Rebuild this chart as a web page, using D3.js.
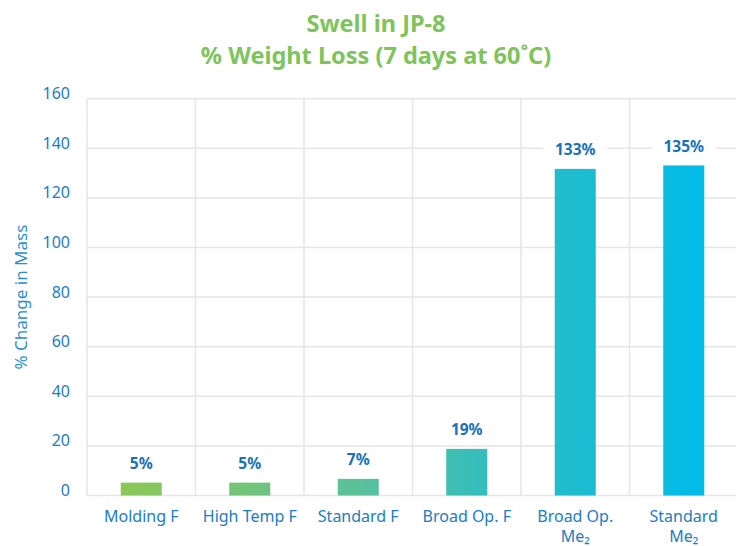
<!DOCTYPE html>
<html>
<head>
<meta charset="utf-8">
<script src="https://cdn.jsdelivr.net/npm/d3@7"></script>
<style>
  html, body { margin: 0; padding: 0; background: #fff; overflow: hidden; }
  svg { display: block; font-family: "Noto Sans", "Lato", sans-serif; }
</style>
</head>
<body>
<svg id="chart" width="736" height="546"></svg>
<script>
// ---- data ----
const categories = ["Molding F", "High Temp F", "Standard F", "Broad Op. F", "Broad Op.|Me₂", "Standard|Me₂"];
const values = [5.2, 5.2, 6.7, 18.8, 131.7, 133.1];
const valueLabels = ["5%", "5%", "7%", "19%", "133%", "135%"];
const yTicks = [0, 20, 40, 60, 80, 100, 120, 140, 160];
const titleLines = ["Swell in JP-8", "% Weight Loss (7 days at 60˚C)"];
const yAxisTitle = "% Change in Mass";

// ---- layout ----
const svg = d3.select("#chart");
const pLeft = 87, pRight = 738, pTop = 98.7, pBottom = 495.5;

const x = d3.scaleBand().domain(categories).range([pLeft, pRight]).padding(0);
const y = d3.scaleLinear().domain([0, 160]).range([pBottom, pTop]);
const barW = x.bandwidth() * 0.378;

// gradient
const defs = svg.append("defs");
const grad = defs.append("linearGradient")
  .attr("id", "barGrad").attr("gradientUnits", "userSpaceOnUse")
  .attr("x1", x(categories[0]) + x.bandwidth() / 2 - barW / 2).attr("x2", x(categories[5]) + x.bandwidth() / 2 + barW / 2)
  .attr("y1", 0).attr("y2", 0);
[[0, "#8dc757"], [0.4, "#5cc199"], [0.65, "#2fbdc0"], [1, "#00bbe9"]].forEach(([o, c]) =>
  grad.append("stop").attr("offset", o).attr("stop-color", c));

const gridColor = "#e5e5e5";

// horizontal grid
svg.append("g").selectAll("line").data(yTicks).join("line")
  .attr("x1", pLeft).attr("x2", pRight)
  .attr("y1", d => y(d)).attr("y2", d => y(d))
  .attr("stroke", gridColor).attr("stroke-width", 1.5);

// vertical grid (band boundaries)
const bounds = categories.map(c => x(c)).concat([pRight]);
svg.append("g").selectAll("line").data(bounds).join("line")
  .attr("x1", d => d).attr("x2", d => d)
  .attr("y1", pTop).attr("y2", pBottom)
  .attr("stroke", gridColor).attr("stroke-width", 1.5);

// y tick labels
svg.append("g").selectAll("text").data(yTicks).join("text")
  .attr("x", 70).attr("y", d => y(d) - 5.5)
  .attr("text-anchor", "end").attr("dominant-baseline", "central")
  .attr("fill", "#1b7dc4").attr("font-size", 16)
  .text(d => d);

// y axis title
svg.append("text")
  .attr("transform", "translate(20," + ((pTop + pBottom) / 2) + ") rotate(-90)")
  .attr("text-anchor", "middle").attr("dominant-baseline", "central")
  .attr("fill", "#2a8fd2").attr("font-size", 17)
  .text(yAxisTitle);

// bars
svg.append("g").selectAll("rect").data(values).join("rect")
  .attr("x", (d, i) => x(categories[i]) + x.bandwidth() / 2 - barW / 2)
  .attr("width", barW)
  .attr("y", d => y(d))
  .attr("height", d => y(0) - y(d))
  .attr("fill", "url(#barGrad)");

// value labels with white background
const lab = svg.append("g").selectAll("g").data(values).join("g")
  .attr("transform", (d, i) => "translate(" + (x(categories[i]) + x.bandwidth() / 2) + "," + (y(d) - 13.5) + ")");
lab.append("rect")
  .attr("x", -32).attr("width", 64).attr("y", -16).attr("height", 22)
  .attr("fill", "#fff");
lab.append("text")
  .attr("text-anchor", "middle")
  .attr("fill", "#1771b9").attr("font-size", 15.5).attr("font-weight", "bold")
  .text((d, i) => valueLabels[i]);

// x labels (one text element per line)
const xLines = [];
categories.forEach(c => c.split("|").forEach((p, k) => xLines.push({ c, p, k })));
svg.append("g").selectAll("text").data(xLines).join("text")
  .attr("x", d => x(d.c) + x.bandwidth() / 2)
  .attr("y", d => 522 + d.k * 20)
  .attr("text-anchor", "middle")
  .attr("fill", "#1b7dc4").attr("font-size", 16)
  .text(d => d.p);

// title
svg.append("g").selectAll("text").data(titleLines).join("text")
  .attr("x", 376).attr("y", (d, i) => 31.5 + i * 32.5)
  .attr("text-anchor", "middle")
  .attr("fill", "#7dc45a").attr("font-size", 23.5).attr("font-weight", "bold")
  .text(d => d);
</script>
</body>
</html>
